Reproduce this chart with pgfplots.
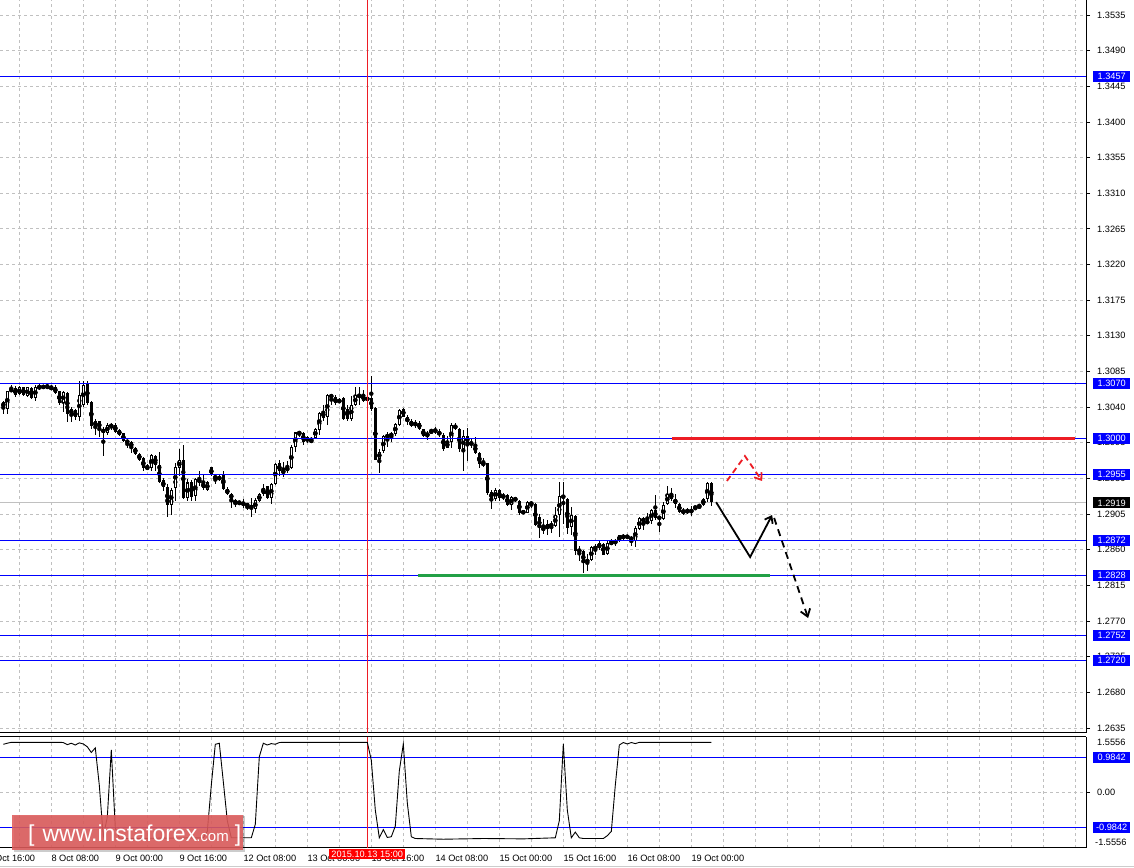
\documentclass[border=0pt]{standalone}
\usepackage{fontspec}
\setmainfont{Liberation Sans}
\usepackage{pgfplots}
\usepackage{pgfplotstable}
\pgfplotsset{compat=1.18}
\usetikzlibrary{arrows.meta}
\definecolor{lvl}{RGB}{0,0,255}
\definecolor{gridc}{RGB}{192,192,192}
\definecolor{redln}{RGB}{237,28,36}
\definecolor{grnln}{RGB}{34,160,70}
\definecolor{wm}{RGB}{222,92,92}

\pgfplotstableread{
k o h l c
0 1.3046 1.3048 1.3031 1.3040
1 1.3038 1.3061 1.3032 1.3060
2 1.3060 1.3068 1.3059 1.3063
3 1.3064 1.3067 1.3053 1.3055
4 1.3056 1.3067 1.3055 1.3065
5 1.3065 1.3066 1.3054 1.3055
6 1.3054 1.3066 1.3053 1.3065
7 1.3064 1.3065 1.3050 1.3052
8 1.3052 1.3068 1.3048 1.3065
9 1.3067 1.3070 1.3061 1.3063
10 1.3066 1.3068 1.3063 1.3065
11 1.3066 1.3070 1.3063 1.3065
12 1.3065 1.3068 1.3062 1.3063
13 1.3065 1.3068 1.3057 1.3058
14 1.3060 1.3061 1.3043 1.3045
15 1.3045 1.3060 1.3034 1.3059
16 1.3058 1.3059 1.3021 1.3032
17 1.3031 1.3040 1.3021 1.3038
18 1.3036 1.3038 1.3024 1.3027
19 1.3028 1.3073 1.3023 1.3055
20 1.3043 1.3073 1.3040 1.3068
21 1.3070 1.3073 1.3043 1.3045
22 1.3047 1.3048 1.3013 1.3016
23 1.3016 1.3025 1.3005 1.3022
24 1.3022 1.3023 1.3002 1.3013
25 1.3013 1.3015 1.2978 1.3007
26 1.3007 1.3020 1.3005 1.3018
27 1.3016 1.3020 1.3011 1.3017
28 1.3017 1.3020 1.3008 1.3009
29 1.3011 1.3012 1.3004 1.3005
30 1.3007 1.3008 1.2996 1.2997
31 1.2998 1.2999 1.2988 1.2995
32 1.2996 1.2997 1.2982 1.2989
33 1.2989 1.2990 1.2980 1.2981
34 1.2981 1.2982 1.2972 1.2974
35 1.2976 1.2977 1.2960 1.2963
36 1.2964 1.2968 1.2961 1.2963
37 1.2963 1.2981 1.2959 1.2980
38 1.2979 1.2980 1.2960 1.2967
39 1.2967 1.2984 1.2944 1.2945
40 1.2948 1.2951 1.2934 1.2939
41 1.2939 1.2943 1.2901 1.2917
42 1.2916 1.2938 1.2904 1.2936
43 1.2938 1.2970 1.2921 1.2965
44 1.2963 1.2987 1.2953 1.2973
45 1.2974 1.2992 1.2924 1.2925
46 1.2925 1.2949 1.2921 1.2945
47 1.2945 1.2948 1.2922 1.2927
48 1.2928 1.2951 1.2921 1.2949
49 1.2948 1.2959 1.2940 1.2946
50 1.2945 1.2954 1.2936 1.2938
51 1.2935 1.2947 1.2934 1.2945
52 1.2964 1.2965 1.2953 1.2954
53 1.2953 1.2954 1.2943 1.2950
54 1.2949 1.2954 1.2947 1.2952
55 1.2954 1.2959 1.2935 1.2937
56 1.2937 1.2939 1.2929 1.2930
57 1.2931 1.2932 1.2913 1.2924
58 1.2923 1.2924 1.2914 1.2918
59 1.2920 1.2921 1.2917 1.2919
60 1.2919 1.2924 1.2913 1.2917
61 1.2917 1.2918 1.2910 1.2916
62 1.2916 1.2925 1.2901 1.2912
63 1.2911 1.2925 1.2907 1.2923
64 1.2922 1.2932 1.2920 1.2930
65 1.2930 1.2943 1.2928 1.2938
66 1.2940 1.2941 1.2924 1.2925
67 1.2925 1.2944 1.2918 1.2943
68 1.2943 1.2970 1.2942 1.2968
69 1.2969 1.2974 1.2953 1.2959
70 1.2957 1.2971 1.2952 1.2960
71 1.2959 1.2972 1.2957 1.2965
72 1.2963 1.2992 1.2962 1.2990
73 1.2990 1.3009 1.2984 1.3008
74 1.3007 1.3010 1.3003 1.3008
75 1.3008 1.3009 1.2992 1.2996
76 1.2997 1.3003 1.2995 1.3002
77 1.2997 1.3002 1.2996 1.2998
78 1.3001 1.3014 1.3000 1.3013
79 1.3011 1.3034 1.3005 1.3033
80 1.3034 1.3043 1.3023 1.3027
81 1.3027 1.3056 1.3017 1.3055
82 1.3055 1.3056 1.3043 1.3053
83 1.3053 1.3055 1.3043 1.3045
84 1.3048 1.3051 1.3045 1.3047
85 1.3052 1.3053 1.3024 1.3025
86 1.3038 1.3043 1.3023 1.3025
87 1.3025 1.3054 1.3023 1.3043
88 1.3043 1.3065 1.3042 1.3055
89 1.3056 1.3065 1.3043 1.3053
90 1.3056 1.3062 1.3047 1.3048
91 1.3051 1.3053 1.3048 1.3050
92 1.3052 1.3079 1.3035 1.3038
93 1.3039 1.3040 1.2973 1.2974
94 1.2974 1.2987 1.2957 1.2984
95 1.2984 1.3005 1.2982 1.3003
96 1.3002 1.3008 1.2990 1.3005
97 1.3004 1.3009 1.2996 1.3006
98 1.3006 1.3020 1.3004 1.3019
99 1.3018 1.3038 1.3016 1.3037
100 1.3038 1.3039 1.3027 1.3028
101 1.3027 1.3030 1.3018 1.3021
102 1.3023 1.3025 1.3015 1.3016
103 1.3016 1.3024 1.3014 1.3021
104 1.3020 1.3022 1.3011 1.3013
105 1.3012 1.3013 1.3002 1.3004
106 1.3003 1.3010 1.2999 1.3008
107 1.3010 1.3013 1.3007 1.3008
108 1.3011 1.3015 1.3006 1.3010
109 1.3009 1.3012 1.3003 1.3005
110 1.3005 1.3007 1.2985 1.2987
111 1.2989 1.3003 1.2988 1.2996
112 1.2996 1.3020 1.2988 1.3017
113 1.3017 1.3020 1.3011 1.3013
114 1.3013 1.3014 1.2983 1.2987
115 1.2987 1.3011 1.2960 1.3003
116 1.3003 1.3014 1.2972 1.2995
117 1.2995 1.3001 1.2988 1.2993
118 1.2993 1.3002 1.2981 1.2982
119 1.2982 1.2984 1.2963 1.2968
120 1.2969 1.2976 1.2965 1.2968
121 1.2969 1.2970 1.2929 1.2931
122 1.2933 1.2936 1.2911 1.2924
123 1.2924 1.2938 1.2922 1.2936
124 1.2935 1.2937 1.2922 1.2925
125 1.2928 1.2931 1.2923 1.2927
126 1.2929 1.2930 1.2915 1.2916
127 1.2916 1.2928 1.2910 1.2927
128 1.2926 1.2927 1.2920 1.2922
129 1.2922 1.2923 1.2904 1.2907
130 1.2908 1.2910 1.2905 1.2907
131 1.2907 1.2921 1.2906 1.2920
132 1.2919 1.2921 1.2913 1.2918
133 1.2918 1.2919 1.2890 1.2891
134 1.2901 1.2905 1.2875 1.2887
135 1.2887 1.2899 1.2880 1.2886
136 1.2886 1.2898 1.2879 1.2892
137 1.2892 1.2896 1.2881 1.2890
138 1.2890 1.2914 1.2889 1.2904
139 1.2904 1.2945 1.2876 1.2928
140 1.2929 1.2946 1.2892 1.2925
141 1.2924 1.2925 1.2880 1.2887
142 1.2889 1.2914 1.2878 1.2904
143 1.2903 1.2904 1.2853 1.2858
144 1.2860 1.2865 1.2846 1.2858
145 1.2858 1.2860 1.2831 1.2843
146 1.2845 1.2854 1.2833 1.2847
147 1.2847 1.2865 1.2846 1.2863
148 1.2865 1.2867 1.2853 1.2860
149 1.2862 1.2871 1.2860 1.2868
150 1.2867 1.2868 1.2853 1.2854
151 1.2854 1.2871 1.2853 1.2869
152 1.2869 1.2874 1.2866 1.2868
153 1.2868 1.2874 1.2865 1.2872
154 1.2871 1.2879 1.2870 1.2878
155 1.2877 1.2880 1.2873 1.2876
156 1.2876 1.2879 1.2874 1.2877
157 1.2876 1.2877 1.2865 1.2872
158 1.2871 1.2890 1.2863 1.2888
159 1.2886 1.2901 1.2885 1.2900
160 1.2900 1.2901 1.2885 1.2895
161 1.2894 1.2907 1.2892 1.2896
162 1.2896 1.2912 1.2892 1.2910
163 1.2910 1.2929 1.2898 1.2900
164 1.2901 1.2902 1.2883 1.2900
165 1.2899 1.2920 1.2898 1.2917
166 1.2918 1.2940 1.2917 1.2930
167 1.2931 1.2938 1.2921 1.2924
168 1.2924 1.2930 1.2913 1.2918
169 1.2918 1.2919 1.2906 1.2908
170 1.2906 1.2913 1.2904 1.2910
171 1.2911 1.2913 1.2905 1.2906
172 1.2906 1.2915 1.2902 1.2912
173 1.2913 1.2915 1.2910 1.2914
174 1.2914 1.2918 1.2913 1.2915
175 1.2917 1.2925 1.2915 1.2924
176 1.2924 1.2945 1.2920 1.2944
177 1.2944 1.2945 1.2915 1.2920
}\candles

\pgfplotstableread{
k v
0 1.35
1 1.38
2 1.406
14 1.406
15 1.40
16 1.34
17 1.38
18 1.33
19 1.39
20 1.36
21 1.28
22 1.12
23 1.25
24 0.2
25 -1.25
26 -0.7
27 1.19
28 -1.0
29 -1.28
30 -1.30
40 -1.29
50 -1.28
51 -1.1
52 0.2
53 1.35
54 1.38
55 0.3
56 -0.8
57 -1.28
62 -1.28
63 -0.9
64 1.0
65 1.38
66 1.33
67 1.37
68 1.35
69 1.40
70 1.406
91 1.406
92 0.9
93 -0.5
94 -1.28
95 -1.05
96 -1.27
97 -1.25
98 -0.95
99 0.6
100 1.36
101 -0.3
102 -1.25
103 -1.30
110 -1.32
120 -1.30
130 -1.31
138 -1.28
139 -0.8
140 1.36
141 -0.5
142 -1.28
143 -1.12
144 -1.28
145 -1.30
150 -1.30
151 -1.22
152 -1.1
153 0.2
154 1.33
155 1.40
156 1.36
157 1.40
158 1.37
159 1.406
177 1.406
}\indic

\tikzset{
  lvlbox/.style={anchor=west, xshift=7bp, fill=lvl, text=white, inner sep=0pt,
    minimum width=37bp, minimum height=11bp, font=\fontsize{9.2bp}{11bp}\selectfont},
  blkbox/.style={lvlbox, fill=black},
}

\begin{document}
\begin{tikzpicture}[x=1bp,y=1bp]
\fill[white] (0,0) rectangle (1134,868);

\begin{axis}[
  name=main, at={(0bp,135bp)}, anchor=south west, scale only axis,
  width=1086bp, height=733bp,
  xmin=-0.825, xmax=270.675, ymin=1.26287, ymax=1.35539,
  axis x line*=bottom, axis y line*=right,
  axis line style={black, line width=1bp, -},
  xtick={4,12,...,268}, xticklabels={},
  ytick={1.2635,1.2680,1.2725,1.2770,1.2815,1.2860,1.2905,1.2950,1.2995,1.3040,1.3085,1.3130,1.3175,1.3220,1.3265,1.3310,1.3355,1.3400,1.3445,1.3490,1.3535},
  grid=major, major grid style={draw=gridc, line width=0.8bp, dash pattern=on 3bp off 3bp},
  tick align=outside, major tick length=4bp,
  xtick style={draw=none}, ytick style={draw=black, line width=0.8bp},
  tick label style={font=\fontsize{9.2bp}{11bp}\selectfont},
  yticklabel style={anchor=west, inner sep=0pt, xshift=7bp},
  /pgf/number format/.cd, fixed, fixed zerofill, precision=4, assume math mode=true,
  /pgfplots/.cd, clip mode=individual,
]
% bid line
\addplot[gridc, line width=1bp] coordinates {(-0.825,1.2919) (270.675,1.2919)};
% candles: wicks, bodies, hollow insides
\addplot[only marks, mark=none, error bars/.cd, y dir=both, y explicit, error mark=none,
  error bar style={draw=black, line width=1bp}]
  table[x=k, y expr={(\thisrow{h}+\thisrow{l})/2}, y error expr={(\thisrow{h}-\thisrow{l})/2}] {\candles};
\addplot[only marks, mark=none, error bars/.cd, y dir=both, y explicit, error mark=none,
  error bar style={draw=black, line width=3.2bp}]
  table[x=k, y expr={(\thisrow{o}+\thisrow{c})/2}, y error expr={max(abs(\thisrow{o}-\thisrow{c})/2,0.00005)}] {\candles};
\addplot[only marks, mark=none, error bars/.cd, y dir=both, y explicit, error mark=none,
  error bar style={draw=white, line width=1.1bp}]
  table[x=k, y expr={(\thisrow{o}+\thisrow{c})/2}, y error expr={max((\thisrow{c}-\thisrow{o})/2-0.00013,0)}] {\candles};
% level lines
\addplot[lvl, line width=1bp] coordinates {(-0.825,1.3457) (270.675,1.3457)};
\addplot[lvl, line width=1bp] coordinates {(-0.825,1.3070) (270.675,1.3070)};
\addplot[lvl, line width=1bp] coordinates {(-0.825,1.3000) (270.675,1.3000)};
\addplot[lvl, line width=1bp] coordinates {(-0.825,1.2955) (270.675,1.2955)};
\addplot[lvl, line width=1bp] coordinates {(-0.825,1.2872) (270.675,1.2872)};
\addplot[lvl, line width=1bp] coordinates {(-0.825,1.2828) (270.675,1.2828)};
\addplot[lvl, line width=1bp] coordinates {(-0.825,1.2752) (270.675,1.2752)};
\addplot[lvl, line width=1bp] coordinates {(-0.825,1.2720) (270.675,1.2720)};
% crosshair
\addplot[redln, line width=0.8bp] coordinates {(91,1.26287) (91,1.35539)};
% red resistance and green support
\addplot[redln, line width=3bp] coordinates {(167.2,1.3001) (267.9,1.3001)};
\addplot[grnln, line width=3bp] coordinates {(103.7,1.2828) (191.7,1.2828)};
% arrows
\addplot[redln, line width=1.8bp, dash pattern=on 6bp off 4bp, -{Straight Barb[length=6bp,width=9bp]}]
  coordinates {(180.9,1.29468) (185.4,1.29783) (189.7,1.29468)};
\addplot[black, line width=1.8bp, -{Straight Barb[length=6bp,width=9bp]}]
  coordinates {(178.2,1.2920) (186.7,1.28508) (192.2,1.29038)};
\addplot[black, line width=1.8bp, dash pattern=on 7bp off 5bp, -{Straight Barb[length=7bp,width=10bp]}]
  coordinates {(192.7,1.29001) (201.2,1.27738)};
\coordinate (p3457) at (axis cs:270.675,1.3457);
\coordinate (p3070) at (axis cs:270.675,1.3070);
\coordinate (p3000) at (axis cs:270.675,1.3000);
\coordinate (p2955) at (axis cs:270.675,1.2955);
\coordinate (p2919) at (axis cs:270.675,1.2919);
\coordinate (p2872) at (axis cs:270.675,1.2872);
\coordinate (p2828) at (axis cs:270.675,1.2828);
\coordinate (p2752) at (axis cs:270.675,1.2752);
\coordinate (p2720) at (axis cs:270.675,1.2720);
\end{axis}

\begin{axis}[
  at={(0bp,20.4bp)}, anchor=south west, scale only axis,
  width=1086bp, height=110.6bp,
  xmin=-0.825, xmax=270.675, ymin=-1.5556, ymax=1.5556,
  axis x line*=box, axis y line*=right,
  axis line style={black, line width=1bp, -},
  xtick={4,12,...,268}, xticklabels={},
  xtick pos=left, xticklabel pos=left,
  extra x ticks={12,28,44,60,76,92,108,124,140,156,172},
  extra x tick labels={8 Oct 08:00,9 Oct 00:00,9 Oct 16:00,12 Oct 08:00,13 Oct 00:00,13 Oct 16:00,14 Oct 08:00,15 Oct 00:00,15 Oct 16:00,16 Oct 08:00,19 Oct 00:00},
  extra x tick style={grid=none, tick style={draw=black, line width=0.8bp},
     tick label style={anchor=north west, inner sep=0pt, yshift=-3bp}},
  ytick={0}, yticklabels={0.00},
  grid=major, major grid style={draw=gridc, line width=0.8bp, dash pattern=on 3bp off 3bp},
  tick align=outside, major tick length=4bp,
  xtick style={draw=none}, ytick style={draw=black, line width=0.8bp},
  tick label style={font=\fontsize{9.2bp}{11bp}\selectfont},
  yticklabel style={anchor=west, inner sep=0pt, xshift=7bp},
  clip mode=individual,
]
\addplot[lvl, line width=1bp] coordinates {(-0.825,0.9842) (270.675,0.9842)};
\addplot[lvl, line width=1bp] coordinates {(-0.825,-0.9842) (270.675,-0.9842)};
\addplot[redln, line width=0.8bp] coordinates {(91,-1.5556) (91,1.5556)};
\addplot[black, line width=0.9bp] table[x=k, y=v] {\indic};
\coordinate (q9842) at (axis cs:270.675,0.9842);
\coordinate (m9842) at (axis cs:270.675,-0.9842);
\coordinate (qtop) at (axis cs:270.675,1.40);
\coordinate (qbot) at (axis cs:270.675,-1.42);
\coordinate (chb) at (axis cs:91,-1.5556);
\end{axis}

% right-hand price boxes
\node[lvlbox] at (p3457) {1.3457};
\node[lvlbox] at (p3070) {1.3070};
\node[lvlbox] at (p3000) {1.3000};
\node[lvlbox] at (p2955) {1.2955};
\node[blkbox] at (p2919) {1.2919};
\node[lvlbox] at (p2872) {1.2872};
\node[lvlbox] at (p2828) {1.2828};
\node[lvlbox] at (p2752) {1.2752};
\node[lvlbox] at (p2720) {1.2720};
\node[lvlbox] at (q9842) {0.9842};
\node[lvlbox] at (m9842) {-0.9842};
\node[anchor=west, inner sep=0pt, xshift=11bp, font=\fontsize{9.2bp}{11bp}\selectfont] at (qtop) {1.5556};
\node[anchor=west, inner sep=0pt, xshift=9bp, font=\fontsize{9.2bp}{11bp}\selectfont] at (qbot) {-1.5556};
\node[anchor=north west, inner sep=0pt, xshift=-380bp, yshift=-7bp, font=\fontsize{9.2bp}{11bp}\selectfont] at (chb) {7 Oct 16:00};

% crosshair time label
\node[fill=red, text=white, anchor=north, yshift=-1.5bp, inner xsep=2bp, inner ysep=1.5bp,
  font=\fontsize{9.2bp}{11bp}\selectfont] at (chb) {2015.10.13 15:00};

% watermark
\fill[black, opacity=0.2] (14,16) rectangle (245,52);
\fill[wm, opacity=0.88] (12,18) rectangle (243,53);
\node[anchor=base west, inner sep=0pt, text=white] at (28,26)
  {\fontsize{23bp}{24bp}\selectfont [\hspace{8bp}www.instaforex\hspace{-1bp}{\fontsize{15bp}{15bp}\selectfont .com}\hspace{6bp}]};
\draw[gray!40, line width=1bp] (0,1) -- (1134,1);
\pgfresetboundingbox
\useasboundingbox (0,0) rectangle (1134,868);
\end{tikzpicture}
\end{document}
